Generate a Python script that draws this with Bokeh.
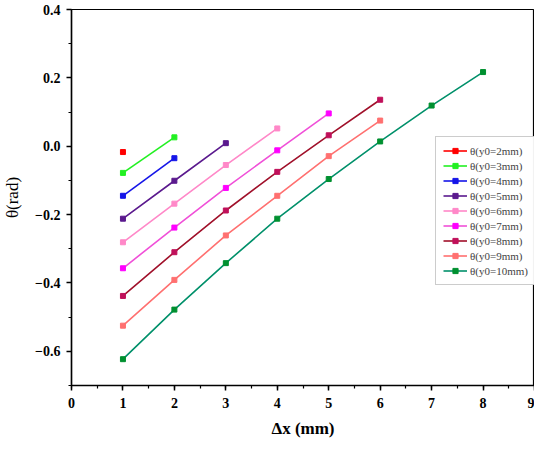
from bokeh.plotting import figure
from bokeh.models import Range1d, FixedTicker, Legend, LegendItem
from bokeh.embed import file_html
from bokeh.resources import INLINE

series_names = ["θ(y0=2mm)", "θ(y0=3mm)", "θ(y0=4mm)", "θ(y0=5mm)", "θ(y0=6mm)",
                "θ(y0=7mm)", "θ(y0=8mm)", "θ(y0=9mm)", "θ(y0=10mm)"]
x_2 = [1]
y_2 = [-0.017]
x_3 = [1, 2]
y_3 = [-0.078, 0.026]
x_4 = [1, 2]
y_4 = [-0.145, -0.035]
x_5 = [1, 2, 3]
y_5 = [-0.212, -0.101, 0.009]
x_6 = [1, 2, 3, 4]
y_6 = [-0.281, -0.168, -0.055, 0.052]
x_7 = [1, 2, 3, 4, 5]
y_7 = [-0.357, -0.238, -0.122, -0.012, 0.096]
x_8 = [1, 2, 3, 4, 5, 6]
y_8 = [-0.438, -0.310, -0.188, -0.075, 0.032, 0.136]
x_9 = [1, 2, 3, 4, 5, 6]
y_9 = [-0.525, -0.391, -0.261, -0.145, -0.029, 0.075]
x_10 = [1, 2, 3, 4, 5, 6, 7, 8]
y_10 = [-0.623, -0.478, -0.342, -0.212, -0.096, 0.014, 0.119, 0.217]

x_ticks = [0, 1, 2, 3, 4, 5, 6, 7, 8, 9]
y_ticks = [-0.6, -0.4, -0.2, 0.0, 0.2, 0.4]

xs = [x_2, x_3, x_4, x_5, x_6, x_7, x_8, x_9, x_10]
ys = [y_2, y_3, y_4, y_5, y_6, y_7, y_8, y_9, y_10]
line_colors = ["#FF0000", "#22F022", "#1515E8", "#5B1A8E", "#FF88C8",
               "#F050D8", "#A0102A", "#FF7070", "#00906A"]
marker_colors = ["#FF0000", "#22F022", "#1515E8", "#5B1A8E", "#FF88C8",
                 "#FF00FF", "#C0105A", "#FF7070", "#009030"]

FONT = "Liberation Serif"

p = figure(width=534, height=441, output_backend="svg", toolbar_location=None,
           x_range=Range1d(0, 9), y_range=Range1d(-0.7, 0.4),
           min_border_left=66, min_border_right=0, min_border_top=9, min_border_bottom=56)
p.grid.visible = False
p.outline_line_color = "black"
p.outline_line_width = 1.2
p.background_fill_color = "white"
p.border_fill_color = "white"

items = []
for name, x, y, lc, mc in zip(series_names, xs, ys, line_colors, marker_colors):
    r1 = p.line(x, y, line_color=lc, line_width=1.6)
    r2 = p.scatter(x, y, marker="square", size=5, fill_color=mc, line_color=mc)
    items.append(LegendItem(label=name, renderers=[r1, r2]))

legend = Legend(items=items, location=(364, 100), label_text_font=FONT,
                label_text_font_size="11px", glyph_width=24, glyph_height=13,
                spacing=2, padding=7, margin=0, label_standoff=3,
                border_line_color="#999999", border_line_width=1, label_height=13)
p.add_layout(legend, "center")

p.xaxis.ticker = FixedTicker(ticks=x_ticks, minor_ticks=[i * 0.5 for i in range(19)])
p.yaxis.ticker = FixedTicker(ticks=y_ticks, minor_ticks=[-0.7 + i * 0.1 for i in range(12)])
p.yaxis.major_label_overrides = {t: ("%.1f" % t).replace("-", "\u2212") for t in y_ticks}

for ax in (p.xaxis, p.yaxis):
    ax.axis_line_width = 1.5
    ax.major_tick_line_width = 1.5
    ax.minor_tick_line_width = 1.2
    ax.major_tick_out = 5
    ax.major_tick_in = 0
    ax.minor_tick_out = 3
    ax.minor_tick_in = 0
    ax.major_label_text_font = FONT
    ax.major_label_text_font_style = "bold"
    ax.major_label_text_font_size = "14px"
    ax.major_label_text_color = "black"
    ax.axis_label_text_font = FONT
    ax.axis_label_text_font_size = "17px"
    ax.axis_label_text_color = "black"

p.xaxis.axis_label = "Δx (mm)"
p.xaxis.axis_label_text_font_style = "bold"
p.xaxis.major_label_standoff = 7
p.xaxis.axis_label_standoff = 8
p.yaxis.axis_label = "θ(rad)"
p.yaxis.axis_label_text_font_style = "normal"
p.yaxis.major_label_standoff = 6
p.yaxis.axis_label_standoff = 10

open("out.html", "w").write(file_html(p, INLINE))
